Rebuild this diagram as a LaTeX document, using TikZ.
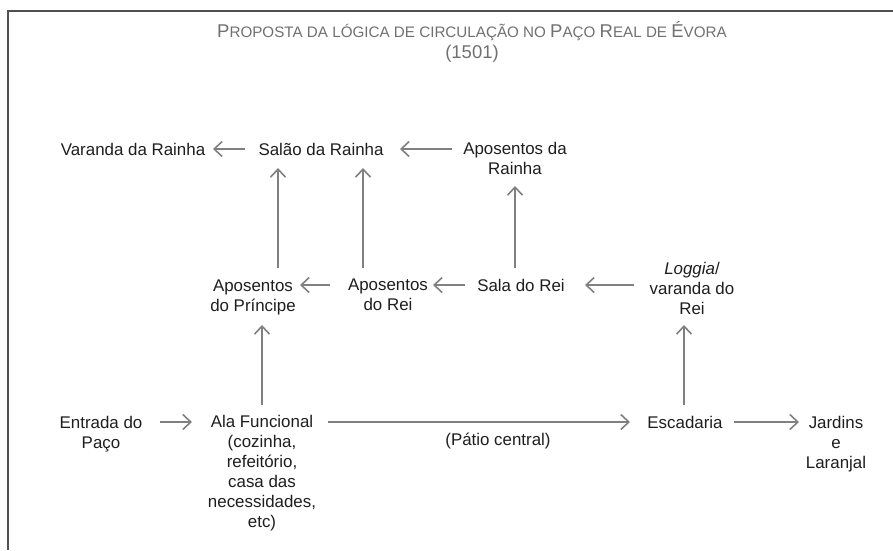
\documentclass[tikz,border=0pt]{standalone}
\usepackage{fontspec}
\setmainfont{Liberation Sans}
\usetikzlibrary{arrows.meta,calc}
\definecolor{txt}{HTML}{1E1E1E}
\definecolor{arrc}{HTML}{808080}
\definecolor{ttl}{HTML}{707070}
\definecolor{frm}{HTML}{505050}
\newcommand{\bigC}[1]{{\fontsize{18.5}{22}\selectfont #1}}
\newcommand{\smC}[1]{{\fontsize{15.2}{22}\selectfont #1}}
\begin{document}
\begin{tikzpicture}[x=1pt,y=-1pt,
  lbl/.style={inner sep=0pt,align=center,text=txt,font=\fontsize{16.9}{20}\selectfont},
  arr/.style={draw=arrc,line width=1.8pt,-{Straight Barb[length=8pt,width=15pt,line width=1.6pt]}},
  frame/.style={draw=frm,line width=2pt},
  ttlstyle/.style={inner sep=0pt,text=ttl,anchor=base}]
\useasboundingbox (0,0) rectangle (893,550);
\draw[frame] (8,550) -- (8,11) -- (893,11);
% title
\node[ttlstyle] (t1) at (472,37) {\bigC{P}\smC{ROPOSTA DA LÓGICA DE CIRCULAÇÃO NO }\bigC{P}\smC{AÇO }\bigC{R}\smC{EAL DE }\bigC{É}\smC{VORA}};
\node[ttlstyle] (t2) at (472,58) {\bigC{(1501)}};
% nodes
\node[lbl] (varanda) at (133,149) {Varanda da Rainha};
\node[lbl] (salao) at (321,149) {Salão da Rainha};
\node[lbl] (apRainha) at (515,158) {Aposentos da\\Rainha};
\node[lbl] (apPrin) at (253,297) {Aposentos\\do Príncipe};
\node[lbl] (apRei) at (388,295) {Aposentos\\do Rei};
\node[lbl] (salaRei) at (521,285) {Sala do Rei};
\node[lbl] (loggia) at (692,288) {\textit{Loggia}/\\varanda do\\Rei};
\node[lbl] (entrada) at (101,434) {Entrada do\\Paço};
\node[lbl] (ala) at (262,473) {Ala Funcional\\(cozinha,\\refeitório,\\casa das\\necessidades,\\etc)};
\node[lbl] (escadaria) at (685,422) {Escadaria};
\node[lbl] (jardins) at (836,444) {Jardins\\e\\Laranjal};
\node[lbl] (patio) at (498,441) {(Pátio central)};
% connectors
\draw[arr] ($(salao)+(-76,0)$) -- ($(varanda)+(80,0)$);
\draw[arr] ($(apRainha)+(-63,-9)$) -- ($(salao)+(79,0)$);
\draw[arr] ($(salaRei)+(-6,-17)$) -- ($(apRainha)+(0,28)$);
\draw[arr] ($(apPrin)+(25,-29)$) -- ($(salao)+(-43,19)$);
\draw[arr] ($(apRei)+(-25,-27)$) -- ($(salao)+(42,19)$);
\draw[arr] ($(apRei)+(-58,-10)$) -- ($(apPrin)+(47,-12)$);
\draw[arr] ($(salaRei)+(-56,0)$) -- ($(apRei)+(45,-10)$);
\draw[arr] ($(loggia)+(-58,-3)$) -- ($(salaRei)+(64,0)$);
\draw[arr] ($(entrada)+(59,-12)$) -- ($(ala)+(-70,-51)$);
\draw[arr] ($(ala)+(0,-68)$) -- ($(apPrin)+(9,28)$);
\draw[arr] ($(ala)+(66,-51)$) -- ($(escadaria)+(-55,0)$);
\draw[arr] ($(escadaria)+(-1,-17)$) -- ($(loggia)+(-8,37)$);
\draw[arr] ($(escadaria)+(49,0)$) -- ($(jardins)+(-37,-22)$);
\end{tikzpicture}
\end{document}
